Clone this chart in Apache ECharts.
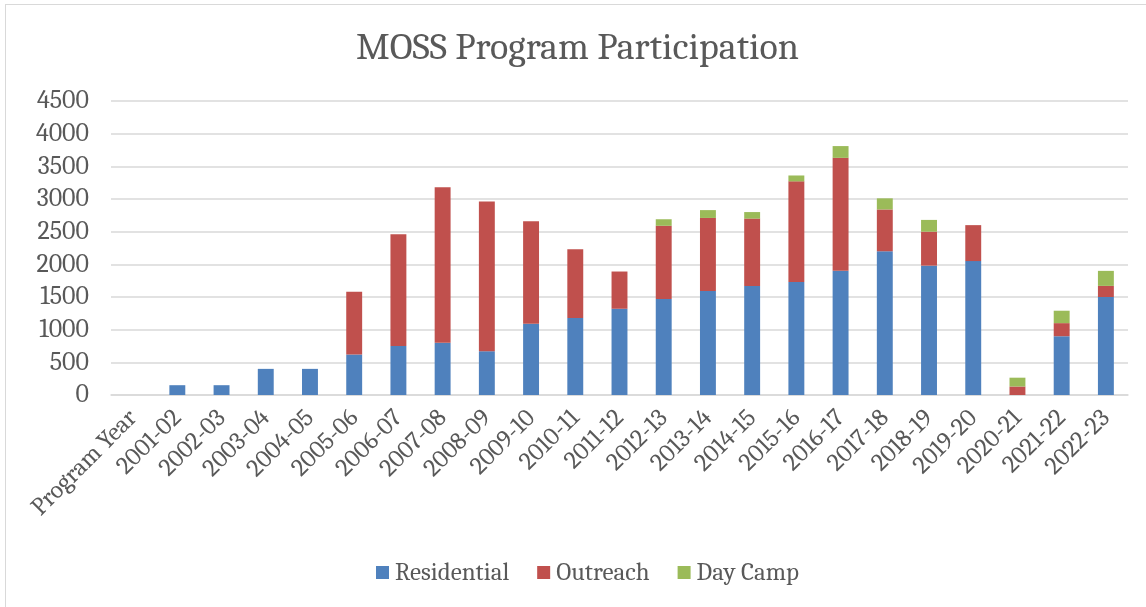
<!DOCTYPE html>
<html>
<head>
<meta charset="utf-8">
<script src="https://cdn.jsdelivr.net/npm/echarts@6/dist/echarts.min.js"></script>
<style>
	html, body { margin: 0; padding: 0; background: #fff; }
	#frame { position: absolute; left: 5px; top: 4px; width: 1160px; height: 620px; border: 1px solid #d9d9d9; }
	#report { position: absolute; left: 0; top: 0; width: 1146px; height: 607px; }
</style>
</head>
<body>
<div id="frame"></div>
<div id="report"></div>
<script>
var years = ['Program Year', '2001-02', '2002-03', '2003-04', '2004-05', '2005-06', '2006-07', '2007-08',
	'2008-09', '2009-10', '2010-11', '2011-12', '2012-13', '2013-14', '2014-15', '2015-16', '2016-17',
	'2017-18', '2018-19', '2019-20', '2020-21', '2021-22', '2022-23'];
var residential = [null, 150, 150, 400, 400, 620, 750, 800, 670, 1090, 1180, 1320, 1470, 1590, 1670,
	1730, 1900, 2200, 1980, 2050, 0, 900, 1500];
var outreach = [null, 0, 0, 0, 0, 960, 1710, 2380, 2290, 1570, 1050, 570, 1120, 1120, 1030,
	1540, 1730, 640, 520, 550, 130, 200, 170];
var dayCamp = [null, 0, 0, 0, 0, 0, 0, 0, 0, 0, 0, 0, 100, 120, 100,
	90, 180, 170, 180, 0, 135, 190, 230];

(function() {
	var myChart = echarts.init(document.getElementById('report'));
	var font = 'Cambria, Caladea, "DejaVu Serif", serif';
	var gray = '#595959';
	function bar(name, data, color) {
		return {
			name: name,
			type: 'bar',
			stack: 'total',
			barWidth: '36%',
			data: data,
			itemStyle: { color: color },
			emphasis: { disabled: true }
		};
	}
	var option = {
		animation: false,
		title: {
			text: 'MOSS Program Participation',
			left: 351,
			top: 24,
			textStyle: { fontFamily: font, fontSize: 38, fontWeight: 'normal', color: gray }
		},
		legend: {
			top: 555,
			left: 371,
			itemWidth: 13,
			itemHeight: 13,
			itemGap: 28,
			icon: 'rect',
			textStyle: { fontFamily: font, fontSize: 25, color: gray, padding: [0, 0, 0, 1] }
		},
		grid: {
			left: 111,
			right: 18,
			top: 101,
			bottom: 212
		},
		xAxis: {
			type: 'category',
			data: years,
			axisLine: { lineStyle: { color: '#d9d9d9', width: 1.5 } },
			axisTick: { show: false },
			axisLabel: {
				rotate: 45,
				interval: 0,
				margin: 19,
				fontFamily: font,
				fontSize: 25,
				color: gray
			}
		},
		yAxis: {
			type: 'value',
			min: 0,
			max: 4500,
			interval: 500,
			axisLine: { show: false },
			axisTick: { show: false },
			splitLine: { lineStyle: { color: '#d9d9d9', width: 1.5 } },
			axisLabel: {
				margin: 22,
				fontFamily: font,
				fontSize: 26,
				color: gray,
				formatter: function(v) { return String(v); }
			}
		},
		series: [
			bar('Residential', residential, '#4f81bd'),
			bar('Outreach', outreach, '#c0504d'),
			bar('Day Camp', dayCamp, '#9bbb59')
		]
	};
	myChart.setOption(option);
})();
</script>
</body>
</html>
